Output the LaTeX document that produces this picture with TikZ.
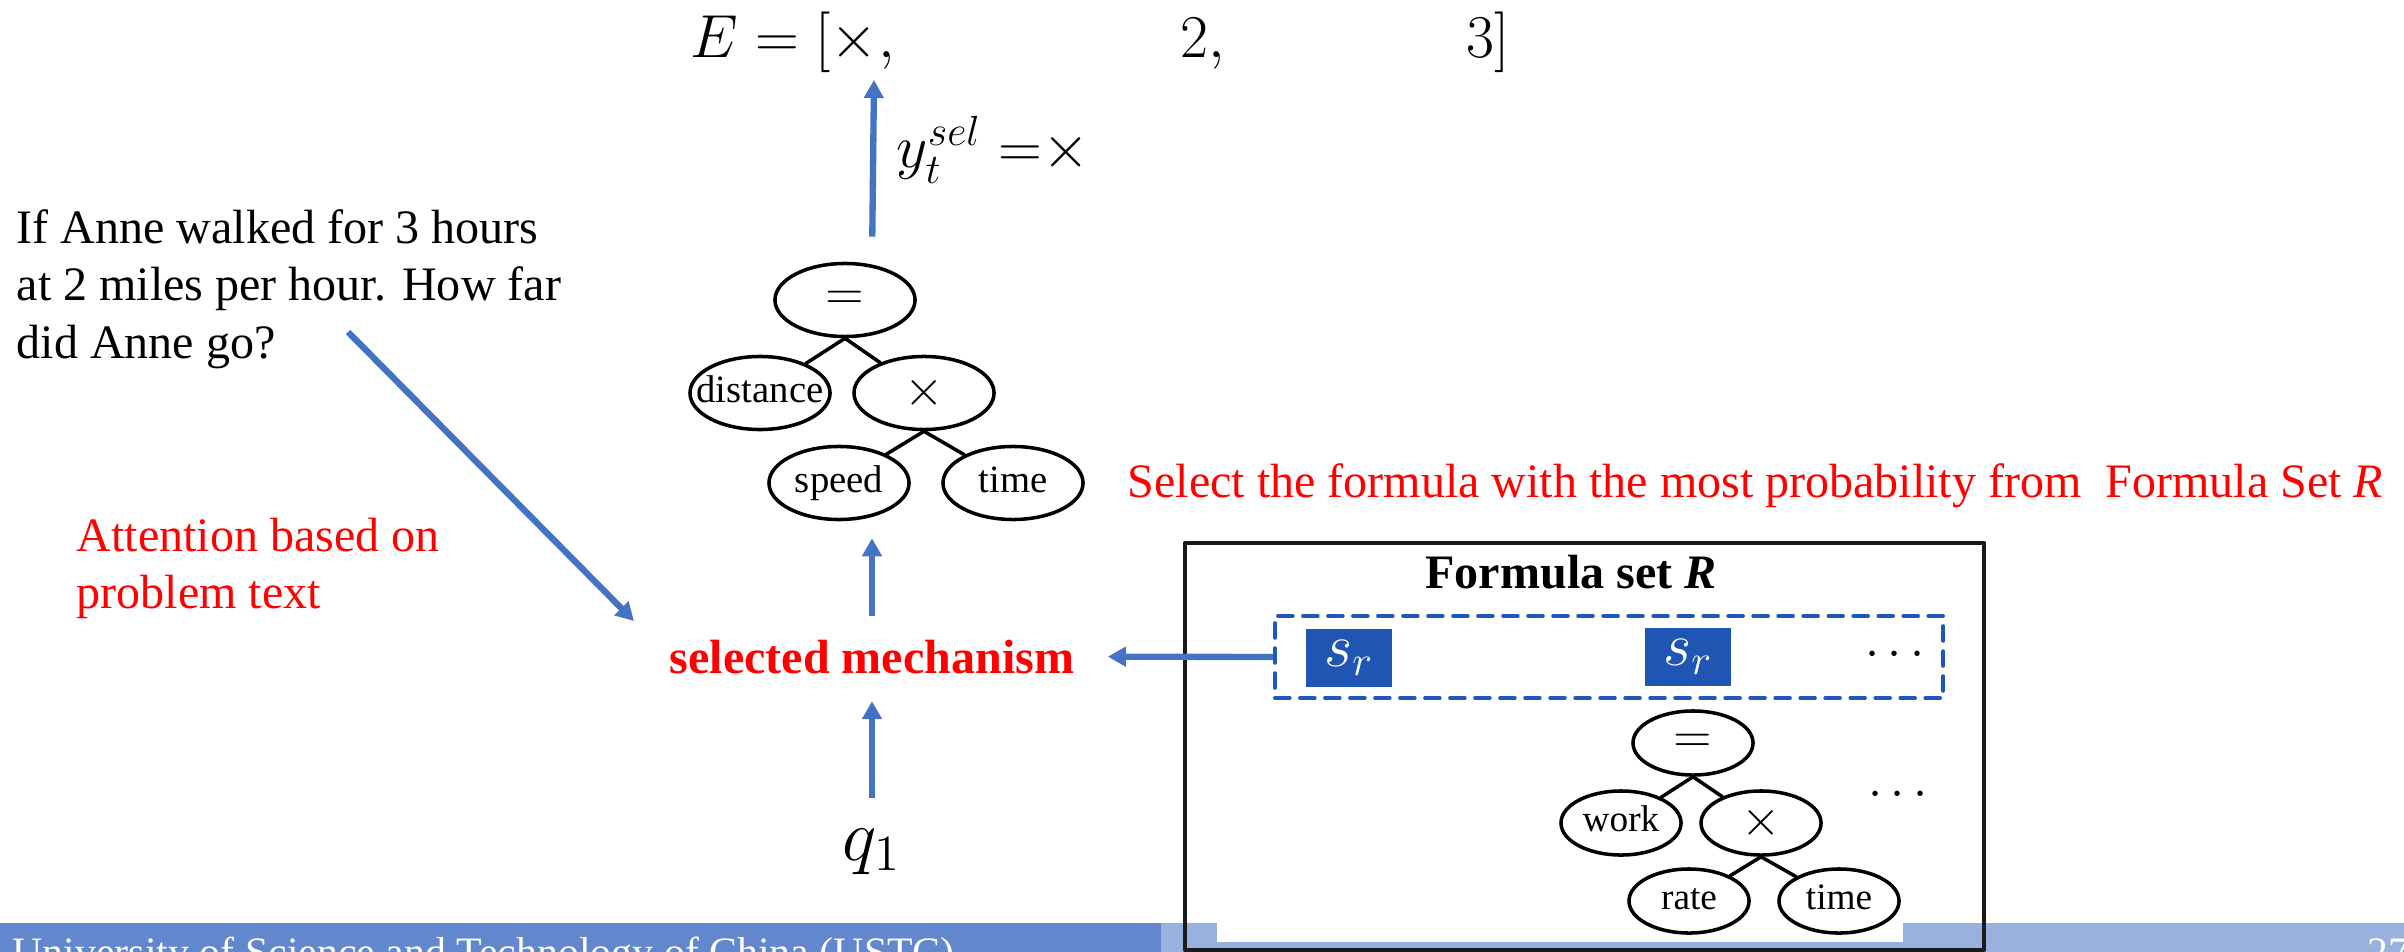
\documentclass[tikz,border=0pt]{standalone}
\usepackage{fontspec}
\setmainfont{Liberation Serif}
\usetikzlibrary{arrows.meta, shapes.geometric, positioning}
\definecolor{ink}{HTML}{000000}
\definecolor{inkb}{HTML}{1A1A1A}
\definecolor{arr}{HTML}{4472C4}
\definecolor{hot}{HTML}{FF0000}
\definecolor{dsh}{HTML}{2157BA}
\definecolor{sbox}{HTML}{1F56B4}
\definecolor{bardk}{HTML}{6287CC}
\definecolor{barlt}{HTML}{98B1DE}
\newcommand\tlab[1]{\makebox[0pt]{#1\vphantom{dp}}}
\newcommand\tsym[1]{\makebox[0pt]{\fontsize{15}{17}\selectfont$#1$}}
\tikzset{el/.style={line cap=round, line join=round},
  tn/.style={ellipse, draw=ink, line width=1pt, inner sep=0pt, minimum width=1.4cm, minimum height=0.73cm, font=\fontsize{11}{13}\selectfont},
  tns/.style={tn, minimum width=1.2cm, minimum height=0.64cm, font=\fontsize{10.6}{12}\selectfont},
  te/.style={ink, line width=1pt},
  ar/.style={arr, line width=1.8pt, line cap=butt, -{Triangle[length=0.18cm, width=0.19cm]}},
  tx/.style={inner sep=0pt, font=\fontsize{13.66}{16.3}\selectfont},
  tb/.style={inner sep=0pt, font=\fontsize{13.66}{16.3}\selectfont\bfseries},
  mx/.style={inner sep=0pt, font=\fontsize{18}{21}\selectfont}}
\begin{document}
\begin{tikzpicture}[el, x=0.01cm, y=-0.01cm]
  \useasboundingbox (0,0) rectangle (2404,952);
  \fill[bardk] (0,923) rectangle (1161,952);
  \fill[barlt] (1161,923) rectangle (2404,952);
  \fill[white] (1217,923) rectangle (1903,942);
  \begin{scope}\clip (0,0) rectangle (2404,952);
    \node[tx, white, anchor=base west, font=\fontsize{11.9}{14}\selectfont] (uni) at (12,966) {University of Science and Technology of China (USTC)};
    \node[tx, white, anchor=base west, font=\fontsize{11.9}{14}\selectfont] (pg) at (2367,966) {27};
  \end{scope}

  \node[mx, anchor=base west] (eqx) at (690,58) {$E=[\times,$};
  \node[mx, anchor=base west] (eq2) at (1180,58) {$2,$};
  \node[mx, anchor=base west] (eq3) at (1466,58) {$3]$};
  \node[mx, anchor=base west, font=\fontsize{16.5}{19}\selectfont] (ysel) at (896,168) {$y_t^{sel}\;{=}{\times}$};

  \node[tn] (eqa) at (845,300) {\tsym{=}};
  \node[tn] (dsa) at (760,393) {\tlab{distance}};
  \node[tn] (mla) at (924,393) {\tsym{\times}};
  \node[tn] (spa) at (839,483) {\tlab{speed}};
  \node[tn] (tma) at (1013,483) {\tlab{time}};
  \foreach \p/\c in {eqa/dsa, eqa/mla, mla/spa, mla/tma}{\draw[te] (\p.south) -- (\c);}

  \node[tx, anchor=north west, align=left] (prob) at (16,209) {If Anne walked for 3 hours\\at 2 miles per hour. How far\\did Anne go?};
  \node[tx, hot, anchor=north west, align=left] (att) at (76,517) {Attention based on\\problem text};
  \node[tx, hot, anchor=base west] (pick) at (1127,497) {Select the formula with the most probability from\ \ Formula Set \textit{R}};
  \node[tb, hot, anchor=base] (sel) at (872,673) {selected mechanism};
  \node[mx, anchor=base, font=\fontsize{21}{24}\selectfont] (q1) at (872,860) {$q_1$};

  \node[draw=inkb, line width=1.1pt, minimum width=7.99cm, minimum height=4.07cm, inner sep=0pt] (fset) at (1584.5,746.5) {};
  \node[tb, anchor=base] (ftit) at (1571,588) {Formula set \textit{R}};
  \node[draw=dsh, line width=1pt, dash pattern=on 0.15cm off 0.1cm, minimum width=6.68cm, minimum height=0.82cm, inner sep=0pt] (cand) at (1609,657) {};
  \node[fill=sbox, text=white, minimum width=0.86cm, minimum height=0.57cm, inner sep=0pt, font=\fontsize{17}{19}\selectfont] (sra) at (1349,658) {$s_r$};
  \node[fill=sbox, text=white, minimum width=0.86cm, minimum height=0.57cm, inner sep=0pt, font=\fontsize{17}{19}\selectfont] (srb) at (1688,657) {$s_r$};
  \node[tx] (dta) at (1895,655) {$\cdots$};
  \node[tx] (dtb) at (1898,795) {$\cdots$};

  \node[tns] (eqb) at (1693,743) {\tsym{=}};
  \node[tns] (wkb) at (1621,823) {\tlab{work}};
  \node[tns] (mlb) at (1761,823) {\tsym{\times}};
  \node[tns] (rtb) at (1689,901) {\tlab{rate}};
  \node[tns] (tmb) at (1839,901) {\tlab{time}};
  \foreach \p/\c in {eqb/wkb, eqb/mlb, mlb/rtb, mlb/tmb}{\draw[te] (\p.south) -- (\c);}

  \coordinate (etop) at (874,80);
  \coordinate (qa) at (348,332);
  \draw[ar, shorten <=0.25cm] (sel |- eqa.north) -- (etop);
  \draw[ar, shorten <=0.23cm, shorten >=0.17cm] (sel.north) -- (sel |- spa.south);
  \draw[ar, shorten <=0.3cm, shorten >=0.27cm] (q1.north) -- (sel.south);
  \draw[ar, shorten >=0.33cm] (cand.west) -- (sel.east);
  \draw[ar, shorten >=0.5cm] (qa) -- (sel.west);
\end{tikzpicture}
\end{document}
